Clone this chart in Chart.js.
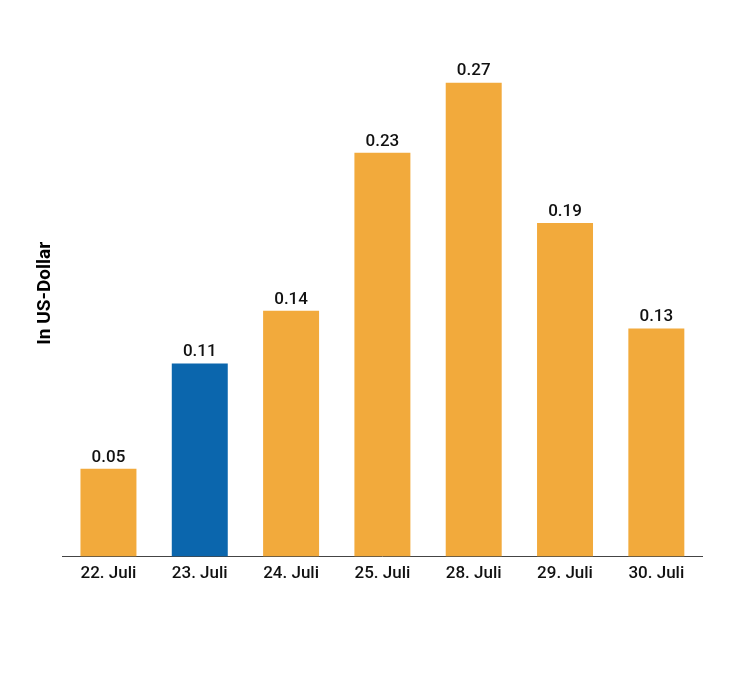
<!DOCTYPE html>
<html>
<head>
<meta charset="utf-8">
<script src="https://cdn.jsdelivr.net/npm/chart.js@4"></script>
<style>
  html, body { margin: 0; padding: 0; background: #fff; }
  #wrap { width: 732px; height: 673px; }
</style>
</head>
<body>
<div id="wrap"><canvas id="chart" width="732" height="673"></canvas></div>
<script>
const categories = ["22. Juli", "23. Juli", "24. Juli", "25. Juli", "28. Juli", "29. Juli", "30. Juli"];
const values = [0.05, 0.11, 0.14, 0.23, 0.27, 0.19, 0.13];
const highlightIndex = 1;

const ORANGE = "#f2aa3c";
const BLUE = "#0b66ad";

// value labels above each bar
const valueLabels = {
  id: "valueLabels",
  afterDatasetsDraw(chart) {
    const ctx = chart.ctx;
    const meta = chart.getDatasetMeta(0);
    ctx.save();
    ctx.font = "500 17px Roboto";
    ctx.fillStyle = "#111";
    ctx.textAlign = "center";
    ctx.textBaseline = "bottom";
    meta.data.forEach((bar, i) => {
      ctx.fillText(values[i].toFixed(2), bar.x, bar.y - 3);
    });
    ctx.restore();
  }
};

new Chart(document.getElementById("chart").getContext("2d"), {
  type: "bar",
  data: {
    labels: categories,
    datasets: [{
      data: values,
      backgroundColor: values.map((v, i) => i === highlightIndex ? BLUE : ORANGE),
      categoryPercentage: 1,
      barPercentage: 0.613
    }]
  },
  options: {
    responsive: false,
    animation: false,
    layout: { padding: { top: 30, left: 34, right: 30, bottom: 82 } },
    plugins: { legend: { display: false }, tooltip: { enabled: false } },
    scales: {
      x: {
        grid: { display: false, drawTicks: false },
        border: { color: "#444", width: 1 },
        ticks: { color: "#111", font: { family: "Roboto", size: 17, weight: "500" }, padding: 7 }
      },
      y: {
        min: 0,
        max: 0.3,
        grid: { display: false, drawTicks: false },
        border: { display: false },
        ticks: { display: false },
        title: {
          display: true,
          text: "In US-Dollar",
          color: "#000",
          font: { family: "Roboto", size: 19, weight: "bold" },
          padding: { top: 0, bottom: 6 }
        }
      }
    }
  },
  plugins: [valueLabels]
});
</script>
</body>
</html>
